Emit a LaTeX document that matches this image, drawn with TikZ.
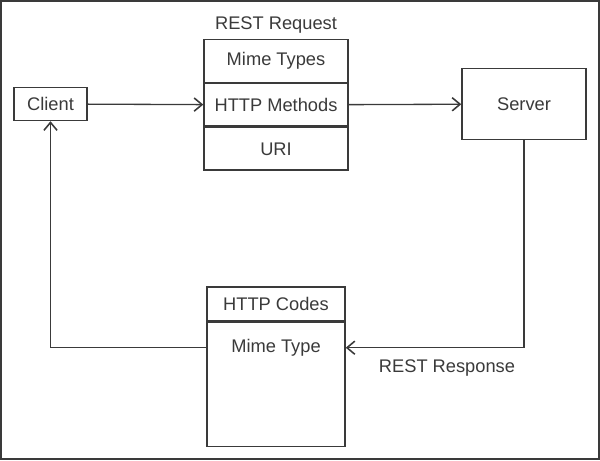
\documentclass[tikz,border=0pt]{standalone}
\usepackage{fontspec}
\setmainfont{Liberation Sans}
\usepackage{tikz}
\usetikzlibrary{arrows.meta, positioning, calc}
\definecolor{inkgray}{RGB}{58,58,58}

\begin{document}
\begin{tikzpicture}[
    node distance=0pt,
    box/.style={
        rectangle, draw=inkgray, line width=0.8pt,
        text=inkgray, font=\fontsize{10.4}{12}\selectfont,
        inner sep=0pt, align=center
    },
    reqrow/.style={box, minimum width=2.88cm, minimum height=0.85cm},
    resprow/.style={box, minimum width=2.76cm},
    arr/.style={-{Straight Barb[length=4.5pt, width=7.5pt, line width=0.9pt]}, line width=0.75pt, color=inkgray},
    labl/.style={font=\fontsize{10.4}{12}\selectfont, text=inkgray}
]
\useasboundingbox (0,0) rectangle (12,-9.2);
\draw[inkgray, line width=1.1pt] (0.02,-0.02) rectangle (11.98,-9.18);

% request side
\node[box, minimum width=1.46cm, minimum height=0.66cm] (client) at (1.01,-2.08) {Client};
\node[reqrow] (mimes) at (5.52,-1.22) {Mime Types};
\node[reqrow, below=of mimes] (methods) {HTTP Methods};
\node[reqrow, below=of methods] (uri) {URI};
\node[labl, above=0pt of mimes] (reqlbl) {REST Request};

\node[box, minimum width=2.48cm, minimum height=1.42cm] (server) at (10.48,-2.08) {Server};

% response side
\node[resprow, minimum height=0.68cm] (codes) at (5.52,-6.08) {HTTP Codes};
\node[resprow, below=of codes, minimum height=2.48cm] (body) {};
\node[labl] (mime) at ($(body.north)+(0,-0.52)$) {Mime Type};
\node[labl] (resplbl) at (8.94,-7.36) {REST Response};

\draw[arr] (client) -- (methods);
\draw[arr] (methods) -- (server);
\draw[arr] (server.south) |- (body.east |- mime);
\draw[arr] (body.west |- mime) -| (client.south);

\end{tikzpicture}
\end{document}
